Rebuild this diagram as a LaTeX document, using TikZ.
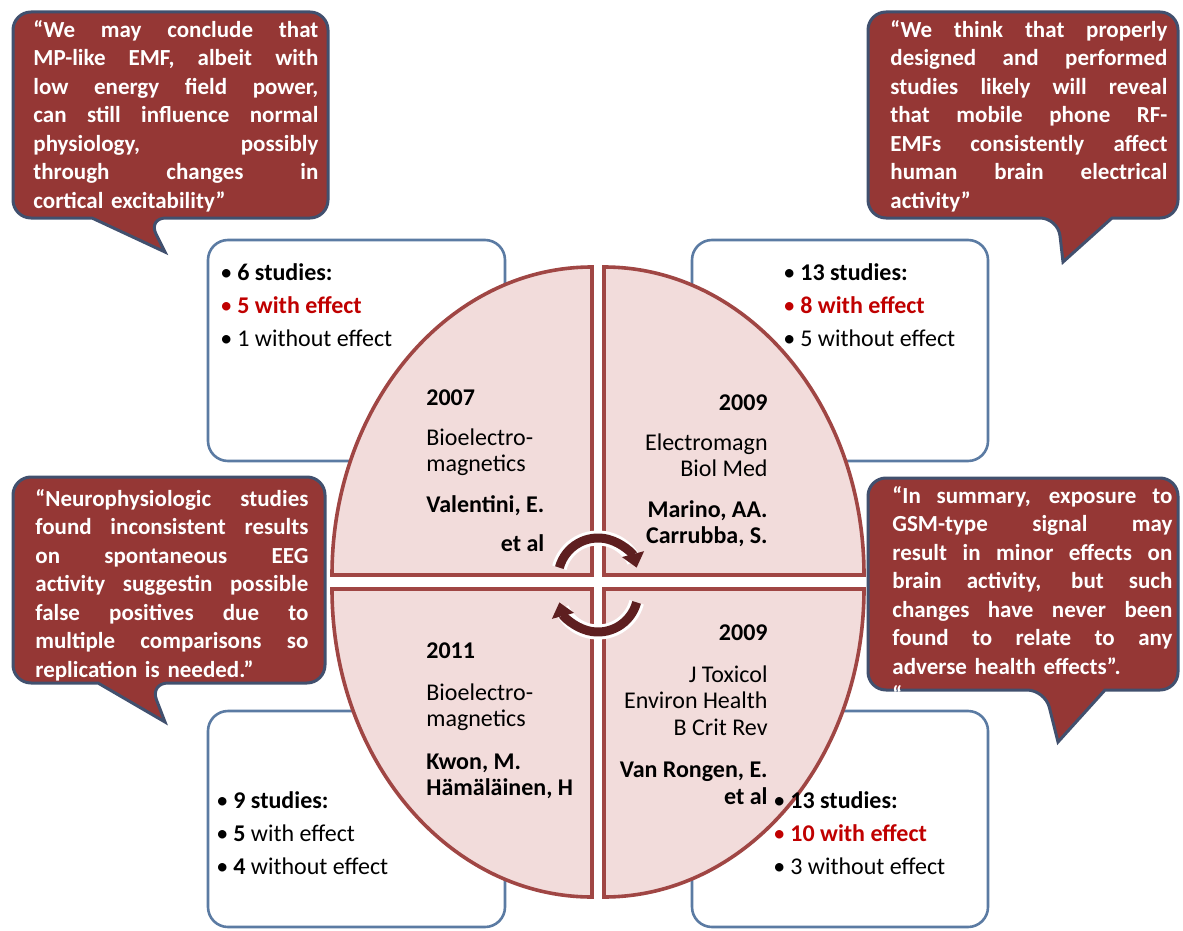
\documentclass[tikz,border=0pt]{standalone}
\usepackage{fontspec}
\setmainfont{Carlito}
\usetikzlibrary{arrows.meta,positioning}

\definecolor{calloutred}{HTML}{953735}
\definecolor{calloutedge}{HTML}{41506E}
\definecolor{boxedge}{HTML}{5B7BA3}
\definecolor{quarterfill}{HTML}{F2DCDB}
\definecolor{quarteredge}{HTML}{A04644}
\definecolor{effectred}{HTML}{C00000}
\definecolor{turnred}{HTML}{5E1F20}

\newlength{\quotewidth}
\newcommand{\jline}[1]{\noindent\hbox to\quotewidth{\spaceskip=0.25em plus 1fil\relax #1}}

\begin{document}
\begin{tikzpicture}[
  x=0.5pt, y=0.5pt,
  callout/.style={
        fill=calloutred,
        draw=calloutedge,
        line width=1.5pt
  },
  studybox/.style={draw=boxedge, line width=1.3pt, fill=white, rounded corners=10pt},
  quarter/.style={fill=quarterfill, draw=quarteredge, line width=1.8pt},
  quotetext/.style={text=white, font=\bfseries\fontsize{11.5}{14.25}\selectfont,
        align=left, inner sep=0pt, anchor=north west, text width=\quotewidth},
  countstext/.style={font=\fontsize{12}{16.5}\selectfont, align=left, inner sep=0pt,
        anchor=north west},
  papertext/.style={font=\fontsize{12}{13.2}\selectfont, inner sep=0pt},
  turnarrow/.style={draw=turnred, line width=4.5pt, -{Triangle[width=11pt,length=7pt]}},
  turncase/.style={draw=white, line width=7.5pt}
]

    \fill[white] (0,0) rectangle (1183,-931);

    % boxes with the study counts
    \draw[studybox] (208,-240) rectangle (505,-461);
    \draw[studybox] (692,-240) rectangle (988,-461);
    \draw[studybox] (208,-711) rectangle (505,-927);
    \draw[studybox] (692,-711) rectangle (988,-927);

    % the four quarters
    \path[quarter] (604,-575) -- ++(0,308) arc[start angle=90, end angle=0, x radius=260, y radius=308] -- cycle;
    \path[quarter] (592,-575) -- ++(0,308) arc[start angle=90, end angle=180, x radius=260, y radius=308] -- cycle;
    \path[quarter] (592,-589) -- ++(0,-308) arc[start angle=270, end angle=180, x radius=260, y radius=308] -- cycle;
    \path[quarter] (604,-589) -- ++(0,-308) arc[start angle=270, end angle=360, x radius=260, y radius=308] -- cycle;

    % turning arrows
    \draw[turncase] (598,-578) ++(165:40) arc[start angle=165, end angle=25, radius=40];
    \draw[turnarrow] (598,-578) ++(165:40) arc[start angle=165, end angle=15, radius=40];
    \draw[turncase] (598,-592) ++(-15:40) arc[start angle=-15, end angle=-155, radius=40];
    \draw[turnarrow] (598,-592) ++(-15:40) arc[start angle=-15, end angle=-165, radius=40];

    % callouts
    \draw[callout] (92,-218) [rounded corners=9pt] -- (13,-218) -- (13,-12) -- (328,-12) -- (328,-218) -- (148,-218) [sharp corners] -- (165,-252) -- cycle;
    \draw[callout] (1112,-218) [rounded corners=9pt] -- (1178,-218) -- (1178,-12) -- (868,-12) -- (868,-218) -- (1058,-218) [sharp corners] -- (1063,-262) -- cycle;
    \draw[callout] (98,-683) [rounded corners=9pt] -- (13,-683) -- (13,-477) -- (325,-477) -- (325,-683) -- (150,-683) [sharp corners] -- (165,-722) -- cycle;
    \draw[callout] (1105,-690) [rounded corners=9pt] -- (1178,-690) -- (1178,-478) -- (868,-478) -- (868,-690) -- (1045,-690) [sharp corners] -- (1058,-742) -- cycle;

    \setlength{\quotewidth}{142.5pt}
    \node[quotetext] (quote_TL) at (33,-20) {%
      \jline{“We may conclude that}\\
      \jline{MP-like EMF, albeit with}\\
      \jline{low energy field power,}\\
      \jline{can still influence normal}\\
      \jline{physiology, possibly}\\
      \jline{through changes in}\\
      cortical excitability”};
    \setlength{\quotewidth}{138.5pt}
    \node[quotetext] (quote_TR) at (890,-20) {%
      \jline{“We think that properly}\\
      \jline{designed and performed}\\
      \jline{studies likely will reveal}\\
      \jline{that mobile phone RF-}\\
      \jline{EMFs consistently affect}\\
      \jline{human brain electrical}\\
      activity”};
    \setlength{\quotewidth}{136.5pt}
    \node[quotetext] (quote_ML) at (35,-489) {%
      \jline{“Neurophysiologic studies}\\
      \jline{found inconsistent results}\\
      \jline{on spontaneous EEG}\\
      \jline{activity suggestin possible}\\
      \jline{false positives due to}\\
      \jline{multiple comparisons so}\\
      replication is needed.”};
    \setlength{\quotewidth}{140pt}
    \node[quotetext] (quote_MR) at (892,-486) {%
      \jline{“In summary, exposure to}\\
      \jline{GSM-type signal may}\\
      \jline{result in minor effects on}\\
      \jline{brain activity, but such}\\
      \jline{changes have never been}\\
      \jline{found to relate to any}\\
      adverse health effects”.\\
      “};

    % study counts
    \node[countstext] (count_TL) at (220,-263) {%
      \textbullet\hspace{2.5pt}\textbf{6 studies:}\\
      \textcolor{effectred}{\textbullet\hspace{2.5pt}\textbf{5 with effect}}\\
      \textbullet\hspace{2.5pt}1 without effect};
    \node[countstext] (count_TR) at (783,-263) {%
      \textbullet\hspace{2.5pt}\textbf{13 studies:}\\
      \textcolor{effectred}{\textbullet\hspace{2.5pt}\textbf{8 with effect}}\\
      \textbullet\hspace{2.5pt}5 without effect};
    \node[countstext] (count_BL) at (216,-791) {%
      \textbullet\hspace{2.5pt}\textbf{9 studies:}\\
      \textbullet\hspace{2.5pt}\textbf{5} with effect\\
      \textbullet\hspace{2.5pt}\textbf{4} without effect};
    \node[countstext] (count_BR) at (773,-791) {%
      \textbullet\hspace{2.5pt}\textbf{13 studies:}\\
      \textcolor{effectred}{\textbullet\hspace{2.5pt}\textbf{10 with effect}}\\
      \textbullet\hspace{2.5pt}3 without effect};

    % papers
    \node[papertext, anchor=north west, align=left] (paper_TL) at (426,-389) {%
      \textbf{2007}\\[7pt]Bioelectro-\\magnetics\\[7pt]\textbf{Valentini, E.}};
    \node[papertext, below=9pt of paper_TL.south east, anchor=north east] (etal_TL) {\textbf{et al}};
    \node[papertext, anchor=north east, align=right] (paper_TR) at (768,-394) {%
      \textbf{2009}\\[7pt]Electromagn\\Biol Med\\[7pt]\textbf{Marino, AA.}\\\textbf{Carrubba, S.}};
    \node[papertext, anchor=north west, align=left] (paper_BL) at (426,-642) {%
      \textbf{2011}\\[8pt]Bioelectro-\\magnetics\\[8pt]\textbf{Kwon, M.}\\\textbf{Hämäläinen, H}};
    \node[papertext, anchor=north east, align=right] (paper_BR) at (768,-624) {%
      \textbf{2009}\\[8pt]J Toxicol\\Environ Health\\B Crit Rev\\[8pt]\textbf{Van Rongen, E.}\\\textbf{et al}};
\end{tikzpicture}
\end{document}
